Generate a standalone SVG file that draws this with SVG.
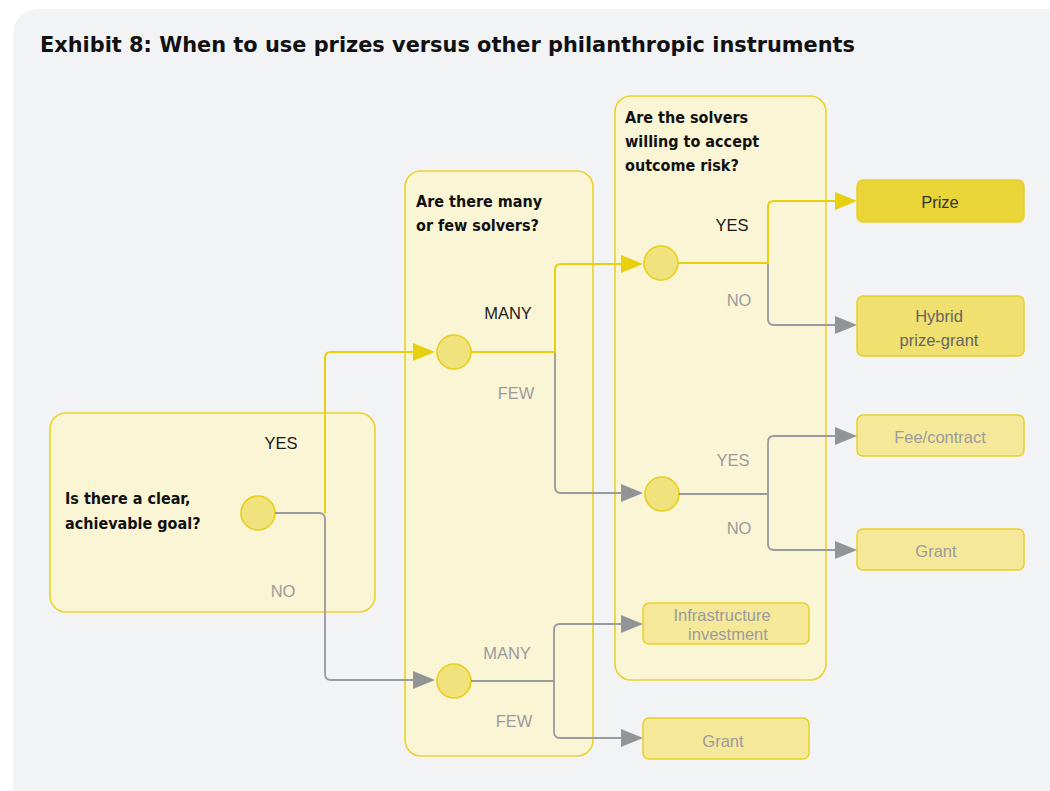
<svg xmlns="http://www.w3.org/2000/svg" width="1050" height="791" viewBox="0 0 1050 791">
<style>
.title{font-family:"DejaVu Sans Condensed","DejaVu Sans","Liberation Sans",sans-serif;font-weight:bold;font-size:21px;fill:#111}
.q{font-family:"DejaVu Sans Condensed","DejaVu Sans","Liberation Sans",sans-serif;font-weight:bold;font-size:16px;fill:#111}
.lb{font-family:"Liberation Sans",Arial,sans-serif;font-size:16.5px;text-anchor:middle}
.dk{fill:#1a1a1a}
.gr{fill:#9b9b9e}
.mid{fill:#666}
.prz{fill:#333}
.box{fill:#faf5d5;stroke:#ead32c;stroke-width:1.6}
.dot{fill:#f0e37d;stroke:#e8cf1c;stroke-width:1.6}
.o1{fill:#e9d538;stroke:#e6cf2a;stroke-width:1.5}
.o2{fill:#f0e070;stroke:#e8d02a;stroke-width:1.5}
.o3{fill:#f5e899;stroke:#e8d02a;stroke-width:1.5}
.cg{fill:none;stroke:#9a9b9f;stroke-width:1.8}
.cy{fill:none;stroke:#e8cf10;stroke-width:2}
</style>
<defs>
<marker id="ag" markerUnits="userSpaceOnUse" markerWidth="22" markerHeight="18" refX="12" refY="9" orient="auto"><path d="M0,0 L22,9 L0,18 z" fill="#939498"/></marker>
<marker id="ay" markerUnits="userSpaceOnUse" markerWidth="22" markerHeight="18" refX="12" refY="9" orient="auto"><path d="M0,0 L22,9 L0,18 z" fill="#e8cf10"/></marker>
</defs>
<rect x="0" y="0" width="1050" height="791" fill="#ffffff"/>
<rect x="13" y="9" width="1070" height="820" rx="25" fill="#f2f3f5"/>
<text class="title" x="40" y="52" textLength="815" lengthAdjust="spacingAndGlyphs">Exhibit 8: When to use prizes versus other philanthropic instruments</text>

<g id="q1">
<rect class="box" x="50" y="413" width="325" height="199" rx="16"/>
<text class="q" x="65" y="504">Is there a clear,</text>
<text class="q" x="65" y="529">achievable goal?</text>
<text class="lb dk" x="281" y="449">YES</text>
<text class="lb gr" x="283" y="597">NO</text>
<circle id="c1" class="dot" cx="258" cy="513" r="17"/>
</g>

<g id="q2">
<rect class="box" x="405" y="171" width="188" height="585" rx="16"/>
<text class="q" x="416" y="207">Are there many</text>
<text class="q" x="416" y="231">or few solvers?</text>
<text class="lb dk" x="508" y="319">MANY</text>
<text class="lb gr" x="516" y="399">FEW</text>
<text class="lb gr" x="507" y="659">MANY</text>
<text class="lb gr" x="514" y="727">FEW</text>
<circle id="c2a" class="dot" cx="454" cy="352" r="17"/>
<circle id="c2b" class="dot" cx="454" cy="681" r="17"/>
</g>

<g id="q3">
<rect class="box" x="615" y="96" width="211" height="584" rx="16"/>
<text class="q" x="625" y="123">Are the solvers</text>
<text class="q" x="625" y="147">willing to accept</text>
<text class="q" x="625" y="171">outcome risk?</text>
<text class="lb dk" x="732" y="231">YES</text>
<text class="lb gr" x="739" y="306">NO</text>
<text class="lb gr" x="733" y="466">YES</text>
<text class="lb gr" x="739" y="534">NO</text>
<circle id="c3a" class="dot" cx="661" cy="263" r="17"/>
<circle id="c3b" class="dot" cx="662" cy="494" r="17"/>
</g>

<g id="prize">
<rect class="o1" x="857" y="180" width="167" height="42" rx="6"/>
<text class="lb prz" x="940" y="208">Prize</text>
</g>
<g id="hybrid">
<rect class="o2" x="857" y="296" width="167" height="60" rx="6"/>
<text class="lb mid" x="939" y="322">Hybrid</text>
<text class="lb mid" x="939" y="346">prize-grant</text>
</g>
<g id="fee">
<rect class="o3" x="857" y="415" width="167" height="41" rx="6"/>
<text class="lb gr" x="940" y="443">Fee/contract</text>
</g>
<g id="grant1">
<rect class="o3" x="857" y="529" width="167" height="41" rx="6"/>
<text class="lb gr" x="936" y="557">Grant</text>
</g>
<g id="infra">
<rect class="o3" x="643" y="603" width="166" height="41" rx="6"/>
<text class="lb gr" x="722" y="621">Infrastructure</text>
<text class="lb gr" x="728" y="640">investment</text>
</g>
<g id="grant2">
<rect class="o3" x="643" y="718" width="166" height="41" rx="6"/>
<text class="lb gr" x="723" y="747">Grant</text>
</g>

<g id="connectors">
<path class="cg" d="M275,513 H319 Q325,513 325,519 V674 Q325,680 331,680 H425" marker-end="url(#ag)"/>
<path class="cy" d="M325,513 V358 Q325,352 331,352 H425" marker-end="url(#ay)"/>
<path class="cg" d="M555,352 V487 Q555,493 561,493 H633" marker-end="url(#ag)"/>
<path class="cy" d="M471,352 H555 V270 Q555,264 561,264 H633" marker-end="url(#ay)"/>
<path class="cg" d="M471,681 H554 V630 Q554,624 560,624 H633" marker-end="url(#ag)"/>
<path class="cg" d="M554,681 V732 Q554,738 560,738 H633" marker-end="url(#ag)"/>
<path class="cg" d="M768,263 V319 Q768,325 774,325 H847" marker-end="url(#ag)"/>
<path class="cy" d="M678,263 H768 V207 Q768,201 774,201 H847" marker-end="url(#ay)"/>
<path class="cg" d="M679,494 H768 V442 Q768,436 774,436 H847" marker-end="url(#ag)"/>
<path class="cg" d="M768,494 V544 Q768,550 774,550 H847" marker-end="url(#ag)"/>
</g>
</svg>
